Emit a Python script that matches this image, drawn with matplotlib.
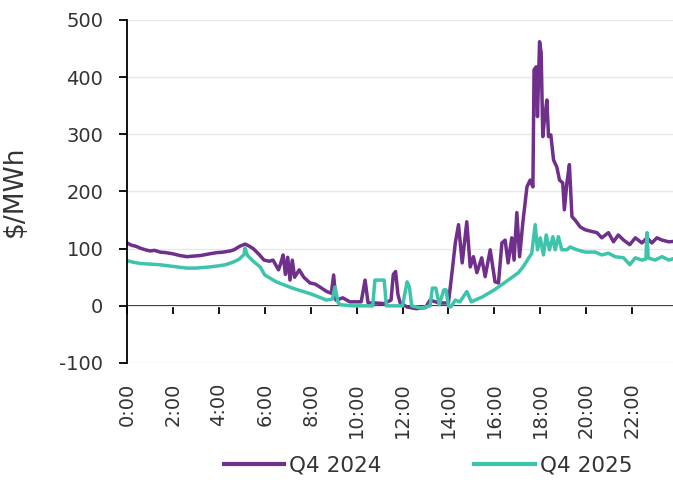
import matplotlib
matplotlib.use("Agg")
import matplotlib.pyplot as plt

# time of day in hours, prices in $/MWh
t_2024 = [0.0, 0.2, 0.4, 0.57, 0.8, 1.0, 1.2, 1.44, 1.7, 2.0, 2.3, 2.6, 2.9, 3.2, 3.6,
          3.9, 4.2, 4.5, 4.66, 4.9, 5.14, 5.3, 5.5, 5.75, 5.97, 6.2, 6.36, 6.5, 6.6, 6.7,
          6.8, 6.9, 7.0, 7.1, 7.2, 7.3, 7.5, 7.7, 7.97, 8.2, 8.4, 8.7, 8.9, 9.0, 9.1,
          9.4, 9.7, 10.2, 10.37, 10.5, 10.8, 11.2, 11.5, 11.6, 11.7, 11.8, 11.9, 12.2, 12.6,
          13.0, 13.2, 13.6, 14.0, 14.17, 14.3, 14.44, 14.6, 14.8, 14.95, 15.09, 15.24, 15.45, 15.6,
          15.82, 16.03, 16.18, 16.33, 16.47, 16.6, 16.76, 16.86, 16.98, 17.1, 17.24, 17.42, 17.56, 17.68,
          17.73, 17.82, 17.88, 17.97, 18.04, 18.11, 18.18, 18.29, 18.36, 18.46, 18.58, 18.72, 18.84, 18.98,
          19.05, 19.16, 19.27, 19.38, 19.52, 19.74, 19.96, 20.25, 20.47, 20.68, 20.97, 21.19, 21.4, 21.63,
          21.9, 22.14, 22.43, 22.65, 22.86, 23.08, 23.3, 23.6, 23.92]
q4_2024 = [110, 106, 104, 101, 98, 96, 97, 94, 93, 91, 88, 86, 87, 88, 91,
           93, 94, 96, 98, 104, 108, 105, 100, 90, 80, 78, 80, 70, 63, 75,
           89, 55, 85, 45, 80, 50, 63, 50, 40, 38, 33, 25, 22, 54, 10,
           14, 7, 7, 45, 5, 5, 4, 10, 55, 60, 20, 5, -2, -5,
           -3, 10, 5, 5, 63, 110, 142, 75, 147, 68, 86, 58, 84, 51,
           98, 42, 40, 110, 115, 75, 119, 80, 163, 86, 145, 208, 220, 208,
           413, 418, 331, 462, 443, 296, 325, 360, 296, 299, 255, 243, 220, 215,
           168, 215, 247, 156, 150, 138, 133, 130, 128, 119, 128, 112, 124, 115,
           107, 119, 110, 119, 110, 119, 115, 112, 113]

t_2025 = [0.0, 0.3, 0.6, 1.0, 1.4, 1.8, 2.2, 2.6, 3.0, 3.3, 3.6, 4.0, 4.3, 4.66, 4.9,
          5.1, 5.14, 5.25, 5.5, 5.8, 6.0, 6.5, 7.2, 8.0, 8.7, 8.95, 9.06, 9.2, 9.3, 9.8,
          10.3, 10.7, 10.8, 11.2, 11.3, 11.6, 12.0, 12.2, 12.3, 12.4, 12.8, 13.2, 13.3, 13.45, 13.6,
          13.8, 13.9, 14.0, 14.1, 14.3, 14.5, 14.8, 15.0, 15.5, 16.0, 16.5, 17.05, 17.25, 17.63, 17.78,
          17.88, 18.0, 18.14, 18.26, 18.4, 18.55, 18.65, 18.79, 18.94, 19.16, 19.3, 19.6, 19.96, 20.4, 20.68,
          20.97, 21.26, 21.63, 21.9, 22.14, 22.43, 22.6, 22.65, 22.7, 23.0, 23.3, 23.6, 23.92]
q4_2025 = [79, 76, 74, 73, 72, 70, 68, 66, 66, 67, 68, 70, 72, 77, 82,
           90, 101, 88, 78, 68, 54, 42, 31, 21, 10, 12, 33, 5, 2, 0,
           0, 0, 45, 45, 0, 0, 0, 42, 33, 0, -4, 0, 31, 31, 2,
           28, 28, 0, -2, 10, 7, 25, 7, 16, 28, 42, 58, 68, 92, 142,
           98, 119, 89, 124, 98, 121, 98, 121, 98, 98, 103, 98, 94, 94, 89,
           92, 86, 84, 72, 84, 80, 82, 128, 84, 80, 86, 80, 84]

tick_hours = list(range(0, 24, 2))
tick_labels = [f"{h}:00" for h in tick_hours]

purple = "#702F8A"
teal = "#3EC4AB"

plt.rcParams['font.family'] = ['DejaVu Sans']
plt.rcParams['axes.unicode_minus'] = False
fig = plt.figure(figsize=(6.73, 4.83), dpi=100)
ax = fig.add_axes([127 / 673, 1 - 363 / 483, 551 / 673, 343 / 483])

ax.plot(t_2024, q4_2024, color=purple, lw=2.5, label="Q4 2024")
ax.plot(t_2025, q4_2025, color=teal, lw=2.5, label="Q4 2025")

ax.set_xlim(0, 24)
ax.set_ylim(-100, 500)
ax.set_yticks(range(-100, 501, 100))
ax.yaxis.grid(True, color="#E8E8E8", lw=1)
ax.set_axisbelow(True)

for s in ["top", "right", "bottom"]:
    ax.spines[s].set_visible(False)
ax.spines["left"].set_color("black")
ax.spines["left"].set_linewidth(1.3)

ax.tick_params(axis="y", direction="out", length=6, width=1.3, pad=11, labelsize=14, colors="#333333")
ax.tick_params(axis="y", color="black")
ax.set_xticks(tick_hours)
ax.set_xticklabels(tick_labels, rotation=90, fontsize=14, color="#333333")
ax.tick_params(axis="x", length=0, pad=14)
ax.set_ylabel("$/MWh", fontsize=19, color="#333333")
ax.yaxis.set_label_coords(-0.18, 0.5)

# zero line with tick marks
sec = ax.secondary_xaxis(1 / 6)
sec.set_xticks(tick_hours)
sec.set_xticklabels([])
sec.spines["bottom"].set_linewidth(1.3)
sec.tick_params(axis="x", direction="out", length=6, width=1.3)

fig.legend(loc="center", bbox_to_anchor=(428 / 673, 1 - 466 / 483), ncol=2, frameon=False,
           fontsize=15.5, handlelength=2.8, handletextpad=0.25, columnspacing=4.3,
           labelcolor="#333333")
for line in fig.legends[0].get_lines():
    line.set_linewidth(3)

fig.savefig("out.png", dpi=100)
